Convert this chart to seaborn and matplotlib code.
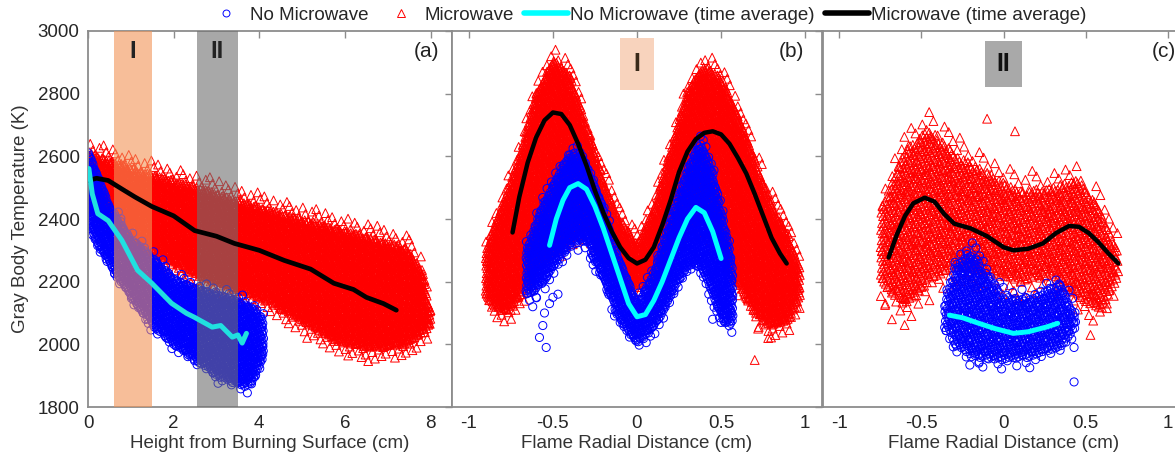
import numpy as np
import seaborn as sns
import matplotlib.pyplot as plt
from matplotlib.lines import Line2D

# ---- data (x, K) ----
# panel (a): height from burning surface (cm)
a_mw_avg_x = [0.0, 0.2, 0.47, 0.8, 1.1, 1.49, 2.0, 2.49, 3.0, 3.42, 4.0, 4.58, 5.2, 5.74, 6.2, 6.5, 6.9, 7.2]
a_mw_avg_y = [2523, 2530, 2523, 2495, 2470, 2440, 2410, 2363, 2345, 2322, 2300, 2268, 2240, 2195, 2175, 2150, 2130, 2109]
a_nomw_avg_x = [0.02, 0.1, 0.23, 0.47, 0.79, 1.16, 1.49, 1.95, 2.3, 2.49, 2.9, 3.1, 3.37, 3.5, 3.6, 3.7]
a_nomw_avg_y = [2561, 2480, 2417, 2395, 2332, 2236, 2195, 2131, 2099, 2086, 2055, 2060, 2023, 2030, 2004, 2035]

a_mw_x = [0.0, 0.5, 1.3, 2.6, 4.2, 5.8, 6.6, 7.4, 7.8, 8.0]
a_mw_lo = [2450, 2400, 2310, 2220, 2140, 2010, 1990, 2000, 2040, 2060]
a_mw_hi = [2610, 2590, 2550, 2500, 2430, 2370, 2340, 2310, 2240, 2100]
a_nomw_x = [0.0, 0.5, 1.0, 1.5, 2.0, 2.5, 3.0, 3.5, 3.8, 4.1]
a_nomw_lo = [2380, 2250, 2150, 2060, 2000, 1950, 1900, 1870, 1870, 1950]
a_nomw_hi = [2620, 2450, 2340, 2280, 2210, 2180, 2160, 2140, 2120, 2080]

# panel (b): region I, flame radial distance (cm)
b_mw_avg_x = [-0.74, -0.7, -0.65, -0.6, -0.55, -0.5, -0.45, -0.4, -0.35, -0.3, -0.25, -0.2, -0.15,
              -0.1, -0.05, 0.0, 0.05, 0.1, 0.15, 0.2, 0.25, 0.3, 0.35, 0.4, 0.45, 0.5, 0.55,
              0.6, 0.65, 0.7, 0.75, 0.8, 0.85, 0.89]
b_mw_avg_y = [2357, 2470, 2580, 2660, 2715, 2740, 2735, 2700, 2640, 2570, 2490, 2420, 2360,
              2310, 2275, 2258, 2270, 2310, 2380, 2460, 2550, 2615, 2655, 2675, 2680, 2670, 2640,
              2595, 2545, 2480, 2410, 2340, 2290, 2258]
b_nomw_avg_x = [-0.52, -0.48, -0.44, -0.4, -0.35, -0.3, -0.25, -0.2, -0.15, -0.1, -0.05, 0.0,
                0.05, 0.1, 0.15, 0.2, 0.25, 0.3, 0.35, 0.4, 0.45, 0.5]
b_nomw_avg_y = [2316, 2400, 2460, 2500, 2513, 2495, 2440, 2370, 2290, 2210, 2130, 2088,
                2095, 2140, 2200, 2270, 2340, 2400, 2437, 2420, 2360, 2274]

b_mw_x = [-0.9, -0.8, -0.7, -0.6, -0.5, -0.4, -0.3, -0.2, -0.1, 0.0, 0.1, 0.2, 0.3, 0.4, 0.5, 0.6, 0.7, 0.8, 0.9, 0.97]
b_mw_lo = [2150, 2100, 2150, 2250, 2300, 2350, 2380, 2300, 2220, 2180, 2220, 2300, 2380, 2400, 2300, 2200, 2100, 2060, 2080, 2150]
b_mw_hi = [2300, 2450, 2600, 2800, 2910, 2860, 2700, 2530, 2400, 2320, 2430, 2620, 2810, 2890, 2850, 2730, 2590, 2450, 2350, 2250]
b_nomw_x = [-0.66, -0.55, -0.45, -0.38, -0.3, -0.2, -0.1, 0.0, 0.1, 0.2, 0.3, 0.38, 0.45, 0.52, 0.57]
b_nomw_lo = [2150, 2200, 2280, 2330, 2330, 2200, 2070, 2000, 2050, 2150, 2250, 2250, 2150, 2070, 2060]
b_nomw_hi = [2300, 2460, 2560, 2620, 2580, 2430, 2260, 2130, 2230, 2400, 2560, 2650, 2550, 2380, 2250]
b_nomw_out_x = [-0.6, -0.58, -0.55, -0.56, -0.54, -0.52, -0.5, -0.47, -0.62, 0.45, 0.5, 0.52, 0.48]
b_nomw_out_y = [2150, 2022, 2100, 2060, 1990, 2130, 2150, 2160, 2120, 2080, 2070, 2100, 2120]
b_mw_out_x = [-0.8, -0.75, 0.7, 0.72, 0.78, 0.8, 0.95, 0.94]
b_mw_out_y = [2170, 2110, 1950, 2050, 2020, 2100, 2120, 2170]

# panel (c): region II
c_mw_avg_x = [-0.7, -0.65, -0.6, -0.55, -0.48, -0.42, -0.36, -0.3, -0.2, -0.1, 0.0, 0.06, 0.15,
              0.24, 0.32, 0.4, 0.46, 0.52, 0.58, 0.64, 0.7]
c_mw_avg_y = [2277, 2350, 2410, 2450, 2468, 2455, 2415, 2385, 2370, 2345, 2310, 2300, 2305,
              2322, 2355, 2378, 2375, 2355, 2325, 2290, 2258]
c_nomw_avg_x = [-0.33, -0.25, -0.15, -0.05, 0.06, 0.15, 0.26, 0.33]
c_nomw_avg_y = [2093, 2085, 2067, 2050, 2035, 2040, 2055, 2067]

c_mw_x = [-0.75, -0.6, -0.45, -0.3, -0.1, 0.1, 0.3, 0.45, 0.6, 0.7]
c_mw_lo = [2200, 2120, 2200, 2250, 2230, 2200, 2220, 2150, 2110, 2220]
c_mw_hi = [2430, 2620, 2690, 2610, 2550, 2490, 2500, 2530, 2420, 2300]
c_nomw_x = [-0.36, -0.3, -0.2, 0.0, 0.2, 0.35, 0.44]
c_nomw_lo = [2050, 2000, 1960, 1950, 1960, 1990, 2050]
c_nomw_hi = [2130, 2250, 2300, 2150, 2150, 2200, 2100]
c_mw_out_x = [-0.72, -0.68, -0.6, 0.55, 0.58, 0.63, 0.53, -0.1, 0.07]
c_mw_out_y = [2130, 2080, 2150, 2160, 2120, 2130, 2030, 2720, 2680]
c_nomw_out_x = [0.43, 0.43, -0.15]
c_nomw_out_y = [1880, 1990, 1940]

ylim = (1800, 3000)
yticks = [1800, 2000, 2200, 2400, 2600, 2800, 3000]

sns.set_theme(style="white")
plt.rcParams["font.family"] = ["Liberation Sans", "DejaVu Sans"]
plt.rcParams["axes.unicode_minus"] = False

W, H = 1175, 459
fig = plt.figure(figsize=(W / 100, H / 100), dpi=100)
ax_a = fig.add_axes([88 / W, 52 / H, 364 / W, 376 / H])
ax_b = fig.add_axes([452 / W, 52 / H, 370 / W, 376 / H])
ax_c = fig.add_axes([823 / W, 52 / H, 361 / W, 376 / H])


def cloud_pts(xs, lo, hi, dx, dy, pad=0.0):
    # fill the envelope with a sheared lattice of markers
    gx = np.arange(xs[0] - dx, xs[-1] + dx, dx)
    gy = np.arange(ylim[0] - dy, ylim[1], dy)
    X, Y = np.meshgrid(gx, gy)
    X = X + ((np.arange(len(gy))[:, None] * 0.618) % 1) * dx
    Y = Y + ((np.arange(len(gx))[None, :] * 0.382) % 1) * dy
    inside_x = (X >= xs[0]) & (X <= xs[-1])
    keep = inside_x & (Y >= np.interp(X, xs, lo) - pad) & (Y <= np.interp(X, xs, hi) + pad)
    return X[keep], Y[keep]


def draw_pts(ax, xs, ys, marker, color, s):
    sns.scatterplot(x=xs, y=ys, marker=marker, s=s, facecolor="none",
                    edgecolor=color, linewidth=0.7, ax=ax, zorder=2, legend=False)


def draw_cloud(ax, xs, lo, hi, dx, dy, marker, color, s, pad):
    # sparse halo round the dense core, as in the raw scatter
    hx, hy = cloud_pts(xs, lo, hi, dx * 2.6, dy * 2.6, pad)
    draw_pts(ax, hx, hy, marker, color, s)
    px, py = cloud_pts(xs, lo, hi, dx, dy)
    draw_pts(ax, px, py, marker, color, s)


def draw_avg(ax, xs, ys, color, lw):
    sns.lineplot(x=xs, y=ys, color=color, linewidth=lw, sort=False,
                 estimator=None, ax=ax, zorder=4)


# (a)
draw_cloud(ax_a, a_mw_x, a_mw_lo, a_mw_hi, 0.06, 8, "^", "red", 40, 45)
draw_cloud(ax_a, a_nomw_x, a_nomw_lo, a_nomw_hi, 0.06, 8, "o", "blue", 34, 25)
ax_a.axvspan(0.6, 1.5, color="#f29456", alpha=0.6, zorder=3, lw=0)
ax_a.axvspan(2.55, 3.5, color="#6e6e6e", alpha=0.6, zorder=3, lw=0)
draw_avg(ax_a, a_mw_avg_x, a_mw_avg_y, "black", 3.4)
draw_avg(ax_a, a_nomw_avg_x, a_nomw_avg_y, "#20e0e0", 3.6)
ax_a.text(1.05, 2935, "I", ha="center", va="center", fontsize=17, fontweight="bold", color="#222222")
ax_a.text(3.02, 2935, "II", ha="center", va="center", fontsize=17, fontweight="bold", color="#222222")

# (b)
draw_cloud(ax_b, b_mw_x, b_mw_lo, b_mw_hi, 0.016, 8, "^", "red", 40, 45)
draw_pts(ax_b, b_mw_out_x, b_mw_out_y, "^", "red", 40)
draw_cloud(ax_b, b_nomw_x, b_nomw_lo, b_nomw_hi, 0.016, 8, "o", "blue", 34, 30)
draw_pts(ax_b, b_nomw_out_x, b_nomw_out_y, "o", "blue", 34)
draw_avg(ax_b, b_mw_avg_x, b_mw_avg_y, "black", 3.2)
draw_avg(ax_b, b_nomw_avg_x, b_nomw_avg_y, "#00ffff", 3.6)
ax_b.text(0.0, 2895, "I", ha="center", va="center", fontsize=18, fontweight="bold", color="#3a2a1a",
          bbox=dict(boxstyle="square,pad=0.55", fc="#f8d3bd", ec="none"))

# (c)
draw_cloud(ax_c, c_mw_x, c_mw_lo, c_mw_hi, 0.026, 11, "^", "red", 40, 60)
draw_pts(ax_c, c_mw_out_x, c_mw_out_y, "^", "red", 40)
draw_cloud(ax_c, c_nomw_x, c_nomw_lo, c_nomw_hi, 0.022, 10, "o", "blue", 34, 35)
draw_pts(ax_c, c_nomw_out_x, c_nomw_out_y, "o", "blue", 34)
draw_avg(ax_c, c_mw_avg_x, c_mw_avg_y, "black", 3.2)
draw_avg(ax_c, c_nomw_avg_x, c_nomw_avg_y, "#00ffff", 3.6)
ax_c.text(0.0, 2895, "II", ha="center", va="center", fontsize=18, fontweight="bold", color="#111111",
          bbox=dict(boxstyle="square,pad=0.45", fc="#a9a9a9", ec="none"))

# axes styling
for ax in (ax_a, ax_b, ax_c):
    ax.set_ylim(*ylim)
    ax.set_yticks(yticks)
    for sp in ax.spines.values():
        sp.set_color("#8c8c8c")
        sp.set_linewidth(1.3)
    ax.tick_params(direction="in", length=5, width=1, color="#8c8c8c",
                   top=True, right=True, labelsize=13.5, labelcolor="#262626", pad=6)
    ax.set_ylabel("")

ax_a.set_xlim(0, 8.5)
ax_a.set_xticks([0, 2, 4, 6, 8])
ax_a.set_xticklabels(["0", "2", "4", "6", "8"])
ax_a.set_ylabel("Gray Body Temperature (K)", fontsize=13.5, color="#333333", labelpad=6)
ax_a.set_xlabel("Height from Burning Surface (cm)", fontsize=13.5, color="#333333", labelpad=2)
ax_a.text(7.9, 2935, "(a)", ha="center", va="center", fontsize=15, color="#222222")

for ax in (ax_b, ax_c):
    ax.set_xlim(-1.1, 1.1)
    ax.set_xticks([-1, -0.5, 0, 0.5, 1])
    ax.set_xticklabels(["-1", "-0.5", "0", "0.5", "1"])
    ax.set_yticklabels([])
    ax.set_xlabel("Flame Radial Distance (cm)", fontsize=13.5, color="#333333", labelpad=2)
ax_b.text(0.92, 2935, "(b)", ha="center", va="center", fontsize=15, color="#222222")
ax_c.text(0.98, 2935, "(c)", ha="center", va="center", fontsize=15, color="#222222")

handles = [
    Line2D([], [], ls="none", marker="o", mfc="none", mec="blue", ms=5, mew=0.7),
    Line2D([], [], ls="none", marker="^", mfc="none", mec="red", ms=5.5, mew=0.7),
    Line2D([], [], color="#00ffff", lw=4),
    Line2D([], [], color="black", lw=4),
]
labels = ["No Microwave", "Microwave", "No Microwave (time average)", "Microwave (time average)"]
fig.legend(handles, labels, loc="center", bbox_to_anchor=(645 / W, 1 - 15 / H), ncol=4,
           frameon=False, fontsize=13.5, handlelength=2.35, handletextpad=0.1,
           columnspacing=0.55, borderaxespad=0)

fig.savefig("out.png", dpi=100)
